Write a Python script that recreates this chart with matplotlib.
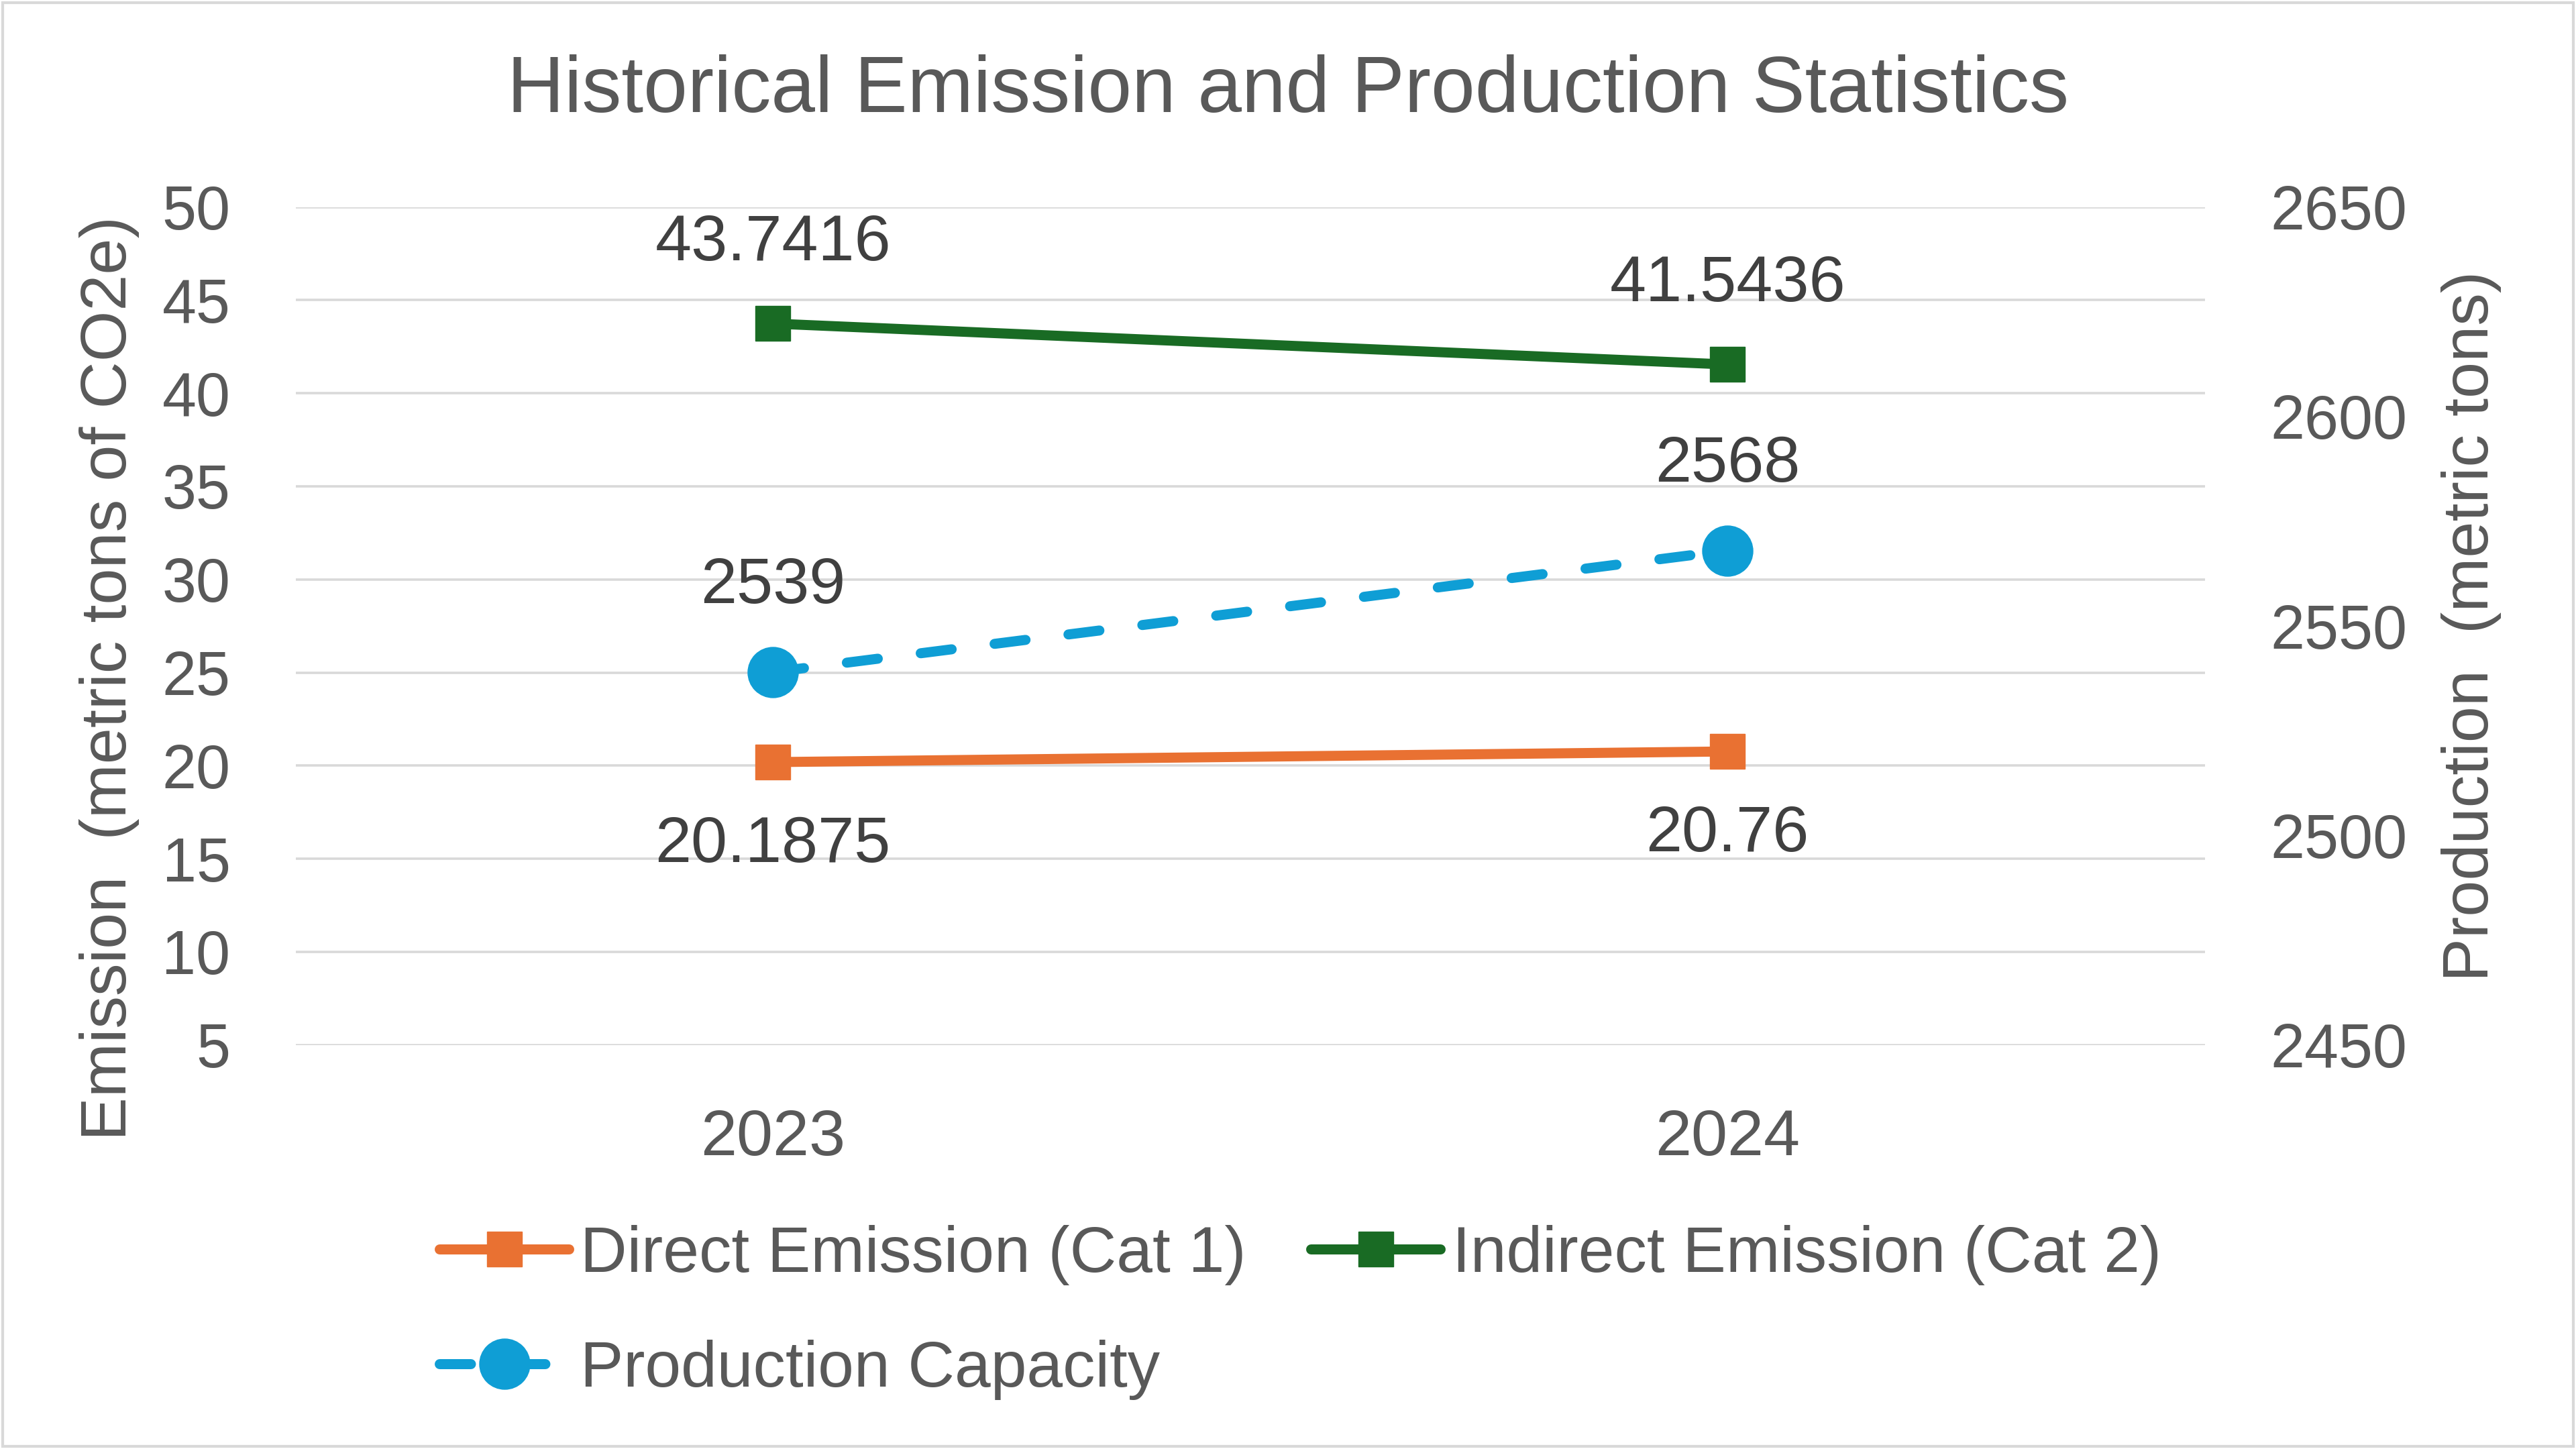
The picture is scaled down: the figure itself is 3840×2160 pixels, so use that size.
import numpy as np
import matplotlib
matplotlib.use("Agg")
import matplotlib.pyplot as plt
from matplotlib.patches import Rectangle

# data
years = ["2023", "2024"]
direct_emission = [20.1875, 20.76]
indirect_emission = [43.7416, 41.5436]
production = [2539, 2568]

plt.rcParams['font.family'] = ['Liberation Sans', 'DejaVu Sans']

orange = "#E97132"
green = "#196B24"
blue = "#0F9ED5"
txt = "#595959"
lbl = "#404040"
grid_c = "#D9D9D9"

fig = plt.figure(figsize=(38.4, 21.6), dpi=100)
ax = fig.add_axes([0.1148, 0.2789, 0.7411, 0.5782])
ax2 = ax.twinx()

x = np.arange(len(years))

l1, = ax.plot(x, direct_emission, color=orange, lw=10.8, marker="s", ms=38,
              solid_capstyle="round", label="Direct Emission (Cat 1)", zorder=3)
l2, = ax.plot(x, indirect_emission, color=green, lw=10.8, marker="s", ms=38,
              solid_capstyle="round", label="Indirect Emission (Cat 2)", zorder=3)
l3, = ax2.plot(x, production, color=blue, lw=10.8, marker="o", ms=54,
               linestyle=(0, (3.1, 4.3)), dash_capstyle="round",
               label="Production Capacity", zorder=3)

ax.set_xlim(-0.5, 1.5)
ax.set_ylim(5, 50)
ax2.set_ylim(2450, 2650)
ax.set_yticks(np.arange(5, 51, 5))
ax2.set_yticks(np.arange(2450, 2651, 50))
ax.set_xticks(x)
ax.set_xticklabels(years)

ax.grid(axis="y", color=grid_c, lw=2.6)
ax.set_axisbelow(True)
for a in (ax, ax2):
    for s in a.spines.values():
        s.set_visible(False)
    a.tick_params(length=0, labelsize=66, labelcolor=txt)
ax.tick_params(axis="y", pad=70)
ax2.tick_params(axis="y", pad=70)
ax.tick_params(axis="x", pad=68, labelsize=70)

# data labels
for xi, v in zip(x, indirect_emission):
    ax.annotate(f"{v:g}", (xi, v), xytext=(0, 86), textcoords="offset points",
                ha="center", va="center", fontsize=70, color=lbl)
for xi, v in zip(x, direct_emission):
    ax.annotate(f"{v:g}", (xi, v), xytext=(0, -89), textcoords="offset points",
                ha="center", va="center", fontsize=70, color=lbl)
for xi, v in zip(x, production):
    ax2.annotate(f"{v:g}", (xi, v), xytext=(0, 92), textcoords="offset points",
                 ha="center", va="center", fontsize=70, color=lbl)

fig.text(0.5, 0.937, "Historical Emission and Production Statistics",
         ha="center", va="center", fontsize=85, color=txt)
fig.text(0.0425, 0.532, "Emission  (metric tons of CO2e)", rotation=90,
         ha="center", va="center", fontsize=70, color=txt)
fig.text(0.9595, 0.568, "Production  (metric tons)", rotation=90,
         ha="center", va="center", fontsize=70, color=txt)

leg = fig.legend([l1, l3, l2], [l1.get_label(), l3.get_label(), l2.get_label()],
                 ncol=2, loc="upper left", bbox_to_anchor=(0.158, 0.177),
                 frameon=False, fontsize=69.5, handlelength=2.0, handletextpad=0.18,
                 columnspacing=1.0, labelspacing=0.84, borderpad=0)
for t in leg.get_texts():
    t.set_color(txt)

fig.patches.append(Rectangle((0.001, 0.002), 0.998, 0.996, transform=fig.transFigure,
                             fill=False, edgecolor=grid_c, lw=3))

fig.savefig("out.png", dpi=100, facecolor="white")
